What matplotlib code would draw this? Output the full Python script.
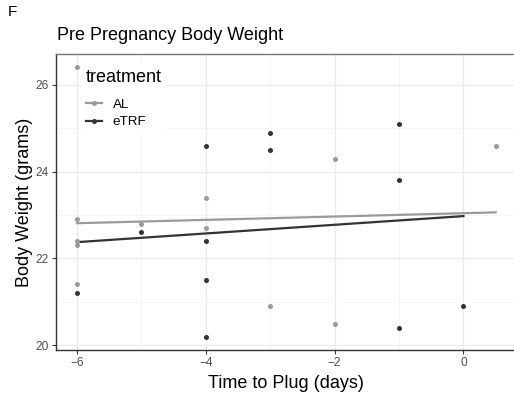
import numpy as np
import matplotlib
matplotlib.use("Agg")
import matplotlib.pyplot as plt
from matplotlib.lines import Line2D

plt.rcParams['font.family'] = ['Liberation Sans', 'DejaVu Sans']

# data (days to plug, body weight in grams)
al_days = [-6, -6, -6, -6, -6, -5, -4, -4, -3, -2, -2, 0.5]
al_weight = [26.4, 22.9, 22.4, 22.3, 21.4, 22.8, 23.4, 22.7, 20.9, 24.3, 20.5, 24.6]
etrf_days = [-6, -5, -4, -4, -4, -4, -3, -3, -1, -1, -1, 0]
etrf_weight = [21.2, 22.6, 24.6, 22.4, 21.5, 20.2, 24.9, 24.5, 25.1, 23.8, 20.4, 20.9]

x_ticks = [-6, -4, -2, 0]
x_ticklabels = ['\u22126', '\u22124', '\u22122', '0']
y_ticks = [20, 22, 24, 26]

groups = [('AL', al_days, al_weight, '#9a9a9a'),
          ('eTRF', etrf_days, etrf_weight, '#333333')]

fig = plt.figure(figsize=(5.14, 3.93), dpi=100)
ax = fig.add_axes([56 / 514, 1 - 350 / 393, (516.6 - 56) / 514, (350 - 54) / 393])

handles = []
for name, xs, ys, col in groups:
    xs = np.array(xs, dtype=float)
    ys = np.array(ys, dtype=float)
    ax.scatter(xs, ys, s=13, color=col, zorder=3, linewidths=0)
    slope, icpt = np.polyfit(xs, ys, 1)
    xr = np.array([xs.min(), xs.max()])
    ax.plot(xr, icpt + slope * xr, color=col, lw=1.6, zorder=2)
    handles.append(Line2D([], [], color=col, lw=1.6, marker='o', markersize=3.6,
                          markeredgewidth=0, label=name))

ax.set_xlim(-6.325, 0.825)
ax.set_ylim(19.89, 26.71)
ax.set_xticks(x_ticks)
ax.set_xticklabels(x_ticklabels)
ax.set_yticks(y_ticks)
ax.set_xticks([-5, -3, -1], minor=True)
ax.set_yticks([21, 23, 25], minor=True)
ax.grid(True, which='major', color='#ebebeb', lw=1.0, zorder=0)
ax.grid(True, which='minor', color='#f4f4f4', lw=0.6, zorder=0)
ax.set_axisbelow(True)
ax.tick_params(which='major', length=3, color='#333333', labelcolor='#4d4d4d',
               labelsize=8.6, pad=2)
ax.tick_params(which='minor', length=0)
for side in ['left', 'bottom']:
    ax.spines[side].set_color('#333333')
    ax.spines[side].set_linewidth(1.0)
ax.spines['top'].set_color('#777777')
ax.spines['top'].set_linewidth(1.0)
ax.spines['right'].set_color('#777777')

ax.set_xlabel('Time to Plug (days)', fontsize=13, labelpad=4)
ax.set_ylabel('Body Weight (grams)', fontsize=13, labelpad=2)

leg = ax.legend(handles=handles, title='treatment', loc='upper left',
                bbox_to_anchor=(82 / 514, 1 - 65 / 393), bbox_transform=fig.transFigure,
                fontsize=9.6, title_fontsize=13, frameon=True, facecolor='white',
                edgecolor='none', framealpha=1, handlelength=1.2, handletextpad=0.8,
                labelspacing=0.38, borderpad=0.3, borderaxespad=0)
leg._legend_box.align = 'left'
leg._legend_box.sep = 9
leg.get_frame().set_boxstyle('square', pad=0)

fig.text(8 / 514, 1 - 12 / 393, 'F', fontsize=11, ha='left', va='center')
fig.text(57 / 514, 1 - 35 / 393, 'Pre Pregnancy Body Weight', fontsize=13,
         ha='left', va='center')

fig.savefig('out.png', dpi=100)
